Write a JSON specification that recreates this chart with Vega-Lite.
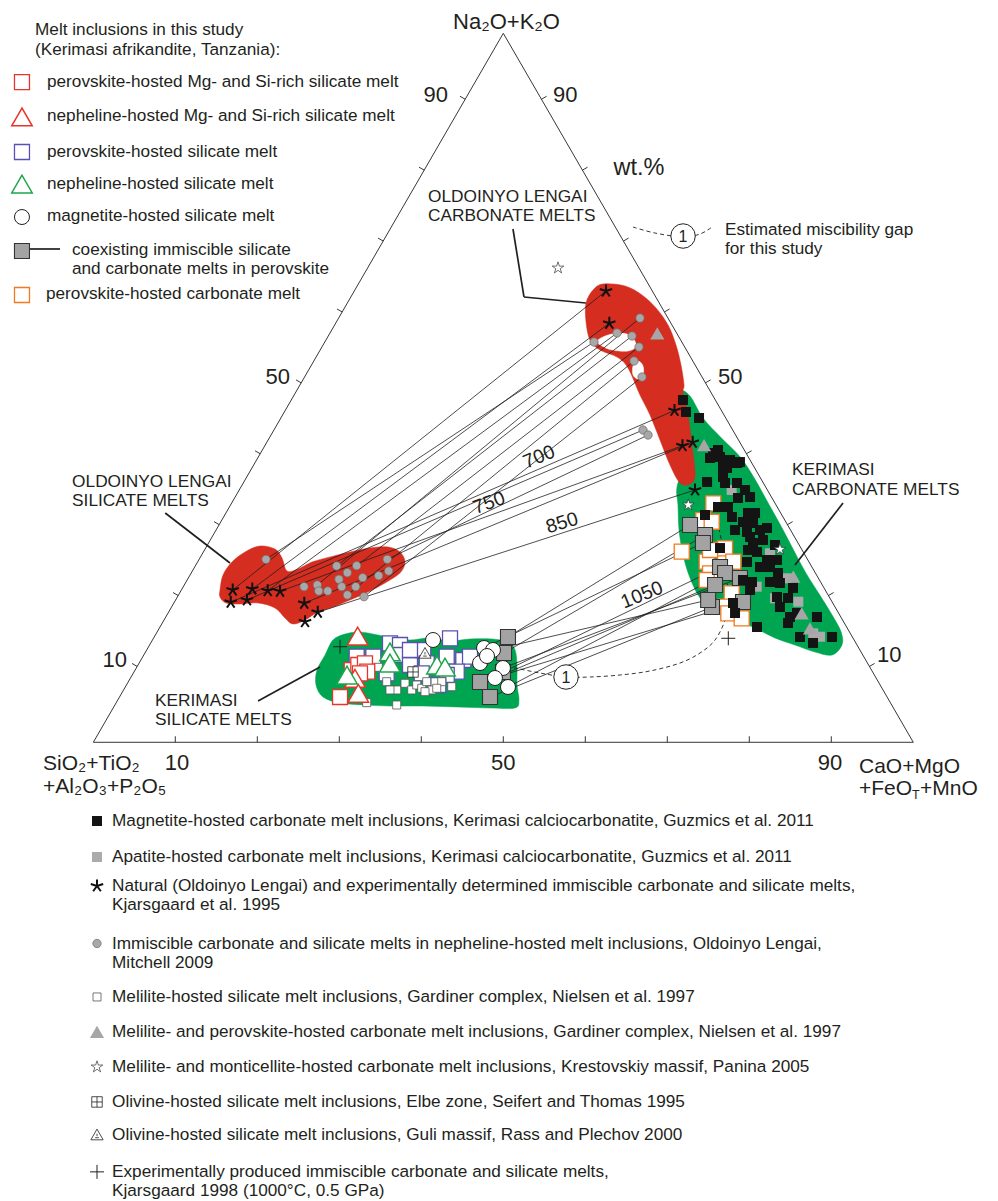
{
"$schema":"https://vega.github.io/schema/vega-lite/v6.json",
"width":998,"height":1201,"padding":0,"autosize":{"type":"none"},"background":"white",
"config":{"view":{"stroke":null},"text":{"font":"Liberation Sans","color":"#231f20"}},
"encoding":{
"x":{"field":"x","type":"quantitative","scale":{"domain":[-11.38,110.33],"nice":false,"zero":false},"axis":null},
"y":{"field":"y","type":"quantitative","scale":{"domain":[-64.70,104.70],"nice":false,"zero":false},"axis":null}},
"datasets":{
"poly":[
{"p":"gc","i":0,"x":71.55,"y":49.41},{"p":"gc","i":1,"x":72.77,"y":48.84},{"p":"gc","i":2,"x":74.35,"y":45.74},{"p":"gc","i":3,"x":76.6,"y":42.92},{"p":"gc","i":4,"x":78.9,"y":40.24},{"p":"gc","i":5,"x":80.6,"y":37.28},{"p":"gc","i":6,"x":82.1,"y":34.17},{"p":"gc","i":7,"x":83.8,"y":30.64},{"p":"gc","i":8,"x":85.4,"y":27.12},{"p":"gc","i":9,"x":86.9,"y":23.88},{"p":"gc","i":10,"x":88.6,"y":20.77},{"p":"gc","i":11,"x":90.1,"y":17.95},{"p":"gc","i":12,"x":91.2,"y":15.55},{"p":"gc","i":13,"x":91.3,"y":13.72},{"p":"gc","i":14,"x":90.09,"y":12.31},{"p":"gc","i":15,"x":88.01,"y":12.73},{"p":"gc","i":16,"x":85.57,"y":13.72},{"p":"gc","i":17,"x":83.13,"y":14.71},{"p":"gc","i":18,"x":80.70,"y":16.12},{"p":"gc","i":19,"x":78.26,"y":17.25},{"p":"gc","i":20,"x":75.82,"y":18.38},{"p":"gc","i":21,"x":73.99,"y":20.35},{"p":"gc","i":22,"x":72.77,"y":23.17},{"p":"gc","i":23,"x":71.92,"y":26.42},{"p":"gc","i":24,"x":71.43,"y":29.94},{"p":"gc","i":25,"x":71.30,"y":33.47},{"p":"gc","i":26,"x":71.18,"y":36.01},{"p":"gc","i":27,"x":72.16,"y":39.82},{"p":"gc","i":28,"x":72.04,"y":45.46},
{"p":"gs","i":0,"x":29.23,"y":14.43},{"p":"gs","i":1,"x":30.70,"y":15.27},{"p":"gs","i":2,"x":32.52,"y":15.56},{"p":"gs","i":3,"x":34.72,"y":15.13},{"p":"gs","i":4,"x":36.43,"y":14.71},{"p":"gs","i":5,"x":38.62,"y":14.43},{"p":"gs","i":6,"x":41.06,"y":14.71},{"p":"gs","i":7,"x":43.50,"y":14.29},{"p":"gs","i":8,"x":45.94,"y":14.57},{"p":"gs","i":9,"x":48.62,"y":14.57},{"p":"gs","i":10,"x":50.57,"y":14.14},{"p":"gs","i":11,"x":51.43,"y":13.02},{"p":"gs","i":12,"x":51.67,"y":10.90},{"p":"gs","i":13,"x":51.67,"y":8.08},{"p":"gs","i":14,"x":51.91,"y":5.97},{"p":"gs","i":15,"x":51.43,"y":4.84},{"p":"gs","i":16,"x":48.38,"y":4.84},{"p":"gs","i":17,"x":44.38,"y":4.98},{"p":"gs","i":18,"x":40.23,"y":5.12},{"p":"gs","i":19,"x":36.21,"y":5.12},{"p":"gs","i":20,"x":33.16,"y":5.26},{"p":"gs","i":21,"x":30.09,"y":5.54},{"p":"gs","i":22,"x":28.01,"y":6.39},{"p":"gs","i":23,"x":27.16,"y":8.08},{"p":"gs","i":24,"x":27.28,"y":10.19},{"p":"gs","i":25,"x":28.26,"y":12.31},
{"p":"rc","i":0,"x":62.16,"y":64.65},{"p":"rc","i":1,"x":64.84,"y":64.37},{"p":"rc","i":2,"x":66.91,"y":63.10},{"p":"rc","i":3,"x":68.62,"y":61.26},{"p":"rc","i":4,"x":70.09,"y":58.86},{"p":"rc","i":5,"x":71.06,"y":56.04},{"p":"rc","i":6,"x":71.67,"y":53.22},{"p":"rc","i":7,"x":72.04,"y":50.40},{"p":"rc","i":8,"x":71.92,"y":49.27},{"p":"rc","i":9,"x":72.53,"y":46.16},{"p":"rc","i":10,"x":73.01,"y":41.93},{"p":"rc","i":11,"x":73.38,"y":37.70},{"p":"rc","i":12,"x":72.77,"y":36.43},{"p":"rc","i":13,"x":71.55,"y":36.57},{"p":"rc","i":14,"x":70.33,"y":39.11},{"p":"rc","i":15,"x":69.11,"y":42.64},{"p":"rc","i":16,"x":67.89,"y":46.16},{"p":"rc","i":17,"x":66.67,"y":48.98},{"p":"rc","i":18,"x":65.21,"y":52.79},{"p":"rc","i":19,"x":63.87,"y":54.34},{"p":"rc","i":20,"x":61.79,"y":55.33},{"p":"rc","i":21,"x":60.57,"y":56.74},{"p":"rc","i":22,"x":60.09,"y":59.28},{"p":"rc","i":23,"x":60.09,"y":61.96},{"p":"rc","i":24,"x":60.94,"y":63.79},
{"p":"rs","i":0,"x":15.45,"y":21.48},{"p":"rs","i":1,"x":15.82,"y":23.60},{"p":"rs","i":2,"x":16.91,"y":25.43},{"p":"rs","i":3,"x":18.50,"y":26.84},{"p":"rs","i":4,"x":20.33,"y":27.69},{"p":"rs","i":5,"x":22.16,"y":27.26},{"p":"rs","i":6,"x":23.01,"y":25.99},{"p":"rs","i":7,"x":23.62,"y":24.16},{"p":"rs","i":8,"x":24.96,"y":24.44},{"p":"rs","i":9,"x":26.67,"y":25.43},{"p":"rs","i":10,"x":28.87,"y":26.14},{"p":"rs","i":11,"x":31.30,"y":26.84},{"p":"rs","i":12,"x":33.74,"y":27.41},{"p":"rs","i":13,"x":35.94,"y":27.55},{"p":"rs","i":14,"x":37.40,"y":26.84},{"p":"rs","i":15,"x":38.01,"y":25.43},{"p":"rs","i":16,"x":37.40,"y":23.88},{"p":"rs","i":17,"x":35.57,"y":22.47},{"p":"rs","i":18,"x":33.50,"y":21.20},{"p":"rs","i":19,"x":31.30,"y":20.07},{"p":"rs","i":20,"x":29.23,"y":19.08},{"p":"rs","i":21,"x":27.40,"y":18.38},{"p":"rs","i":22,"x":25.82,"y":17.25},{"p":"rs","i":23,"x":24.35,"y":16.68},{"p":"rs","i":24,"x":23.38,"y":17.53},{"p":"rs","i":25,"x":22.16,"y":18.94},{"p":"rs","i":26,"x":20.09,"y":19.65},{"p":"rs","i":27,"x":17.89,"y":19.51},{"p":"rs","i":28,"x":16.18,"y":19.65},{"p":"rs","i":29,"x":15.45,"y":20.49},
{"p":"w1","i":0,"x":61.43,"y":56.60},{"p":"w1","i":1,"x":62.77,"y":57.45},{"p":"w1","i":2,"x":64.48,"y":57.73},{"p":"w1","i":3,"x":65.70,"y":57.16},{"p":"w1","i":4,"x":66.18,"y":55.90},{"p":"w1","i":5,"x":65.21,"y":55.19},{"p":"w1","i":6,"x":63.26,"y":55.33},{"p":"w1","i":7,"x":62.04,"y":55.90},
{"p":"w2","i":0,"x":66.43,"y":53.78},{"p":"w2","i":1,"x":67.04,"y":53.08},{"p":"w2","i":2,"x":67.04,"y":51.81},{"p":"w2","i":3,"x":66.43,"y":51.24},{"p":"w2","i":4,"x":65.82,"y":51.81},{"p":"w2","i":5,"x":65.82,"y":53.08}
],
"seg":[
{"c":"tri","x":0,"y":0,"x2":100,"y2":0},{"c":"tri","x":100,"y":0,"x2":50,"y2":100},{"c":"tri","x":50,"y":100,"x2":0,"y2":0},
{"c":"tick","x":10,"y":0,"x2":10,"y2":0.85},{"c":"tick","x":20,"y":0,"x2":20,"y2":0.85},{"c":"tick","x":30,"y":0,"x2":30,"y2":0.85},{"c":"tick","x":40,"y":0,"x2":40,"y2":0.85},{"c":"tick","x":50,"y":0,"x2":50,"y2":0.85},{"c":"tick","x":60,"y":0,"x2":60,"y2":0.85},{"c":"tick","x":70,"y":0,"x2":70,"y2":0.85},{"c":"tick","x":80,"y":0,"x2":80,"y2":0.85},{"c":"tick","x":90,"y":0,"x2":90,"y2":0.85},
{"c":"tick","x":5.35,"y":10.7,"x2":4.72,"y2":11.12},{"c":"tick","x":10.35,"y":20.7,"x2":9.72,"y2":21.12},{"c":"tick","x":15.35,"y":30.7,"x2":14.72,"y2":31.12},{"c":"tick","x":20.35,"y":40.7,"x2":19.72,"y2":41.12},{"c":"tick","x":25.35,"y":50.7,"x2":24.72,"y2":51.12},{"c":"tick","x":30.35,"y":60.7,"x2":29.72,"y2":61.12},{"c":"tick","x":35.35,"y":70.7,"x2":34.72,"y2":71.12},{"c":"tick","x":40.35,"y":80.7,"x2":39.72,"y2":81.12},{"c":"tick","x":45.35,"y":90.7,"x2":44.72,"y2":91.12},
{"c":"tick","x":94.65,"y":10.7,"x2":95.28,"y2":11.12},{"c":"tick","x":89.65,"y":20.7,"x2":90.28,"y2":21.12},{"c":"tick","x":84.65,"y":30.7,"x2":85.28,"y2":31.12},{"c":"tick","x":79.65,"y":40.7,"x2":80.28,"y2":41.12},{"c":"tick","x":74.65,"y":50.7,"x2":75.28,"y2":51.12},{"c":"tick","x":69.65,"y":60.7,"x2":70.28,"y2":61.12},{"c":"tick","x":64.65,"y":70.7,"x2":65.28,"y2":71.12},{"c":"tick","x":59.65,"y":80.7,"x2":60.28,"y2":81.12},{"c":"tick","x":54.65,"y":90.7,"x2":55.28,"y2":91.12},
{"c":"tie","x":17.00,"y":21.48,"x2":62.52,"y2":63.65},{"c":"tie","x":19.39,"y":21.62,"x2":62.93,"y2":59.10},{"c":"tie","x":21.06,"y":25.81,"x2":61.06,"y2":56.46},{"c":"tie","x":21.27,"y":21.38,"x2":63.87,"y2":57.73},{"c":"tie","x":27.32,"y":22.19,"x2":66.67,"y2":59.84},{"c":"tie","x":29.68,"y":24.87,"x2":65.70,"y2":57.31},{"c":"tie","x":32.12,"y":24.91,"x2":66.55,"y2":55.75},{"c":"tie","x":30.98,"y":20.78,"x2":65.94,"y2":53.78},{"c":"tie","x":33.01,"y":20.54,"x2":66.92,"y2":51.52},{"c":"tie","x":16.76,"y":19.75,"x2":70.88,"y2":46.80},{"c":"tie","x":18.74,"y":20.07,"x2":67.04,"y2":44.05},{"c":"tie","x":22.77,"y":21.30,"x2":71.85,"y2":41.83},{"c":"tie","x":27.37,"y":18.34,"x2":73.38,"y2":35.59},{"c":"tie","x":25.73,"y":19.61,"x2":73.10,"y2":42.31},{"c":"tie","x":35.85,"y":25.81,"x2":67.65,"y2":43.34},
{"c":"tie","x":50.57,"y":14.85,"x2":72.77,"y2":30.65},{"c":"tie","x":50.09,"y":12.59,"x2":74.60,"y2":29.24},{"c":"tie","x":47.65,"y":13.30,"x2":74.35,"y2":28.11},{"c":"tie","x":49.96,"y":9.92,"x2":76.43,"y2":24.72},{"c":"tie","x":50.57,"y":7.80,"x2":77.04,"y2":23.88},{"c":"tie","x":48.98,"y":9.07,"x2":75.82,"y2":22.19},{"c":"tie","x":49.96,"y":10.48,"x2":78.86,"y2":23.17},{"c":"tie","x":48.38,"y":6.39,"x2":75.45,"y2":19.08},{"c":"tie","x":47.16,"y":8.50,"x2":79.23,"y2":19.79},{"c":"tie","x":48.74,"y":13.02,"x2":74.98,"y2":20.07},
{"c":"ptr","x":8.77,"y":32.34,"x2":16.67,"y2":25.29},{"c":"ptr","x":51.18,"y":72.40,"x2":52.52,"y2":62.81},{"c":"ptr","x":52.52,"y":62.81,"x2":60.07,"y2":61.96},{"c":"ptr","x":91.43,"y":33.75,"x2":85.57,"y2":25.01},{"c":"ptr","x":20.09,"y":5.83,"x2":27.65,"y2":10.62},{"c":"ptr","x":-7.72,"y":69.58,"x2":-4.06,"y2":69.58}
],
"dash":[
{"id":"b","i":0,"x":49.60,"y":10.90},{"id":"b","i":1,"x":51.43,"y":10.48},{"id":"b","i":2,"x":54.48,"y":9.77},{"id":"b","i":3,"x":57.65,"y":9.21},{"id":"b","i":4,"x":60.57,"y":9.21},{"id":"b","i":5,"x":64.23,"y":9.49},{"id":"b","i":6,"x":67.89,"y":10.06},{"id":"b","i":7,"x":71.55,"y":11.18},{"id":"b","i":8,"x":73.99,"y":12.60},{"id":"b","i":9,"x":75.82,"y":14.43},{"id":"b","i":10,"x":77.04,"y":17.25},{"id":"b","i":11,"x":77.40,"y":20.07},{"id":"b","i":12,"x":77.04,"y":25.71},{"id":"b","i":13,"x":76.06,"y":31.35},
{"id":"t","i":0,"x":65.82,"y":72.68},{"id":"t","i":1,"x":68.51,"y":71.83},{"id":"t","i":2,"x":71.92,"y":71.27},{"id":"t","i":3,"x":73.99,"y":71.69},{"id":"t","i":4,"x":75.46,"y":72.68}
],
"pts":[
{"c":"blsq","x":36.18,"y":13.96},{"c":"blsq","x":37.40,"y":13.72},{"c":"blsq","x":37.00,"y":12.31},{"c":"blsq","x":38.62,"y":10.90},{"c":"blsq","x":40.24,"y":13.02},{"c":"blsq","x":40.66,"y":11.14},{"c":"blsq","x":43.10,"y":12.07},{"c":"blsq","x":43.50,"y":14.67},{"c":"blsq","x":45.12,"y":11.61},{"c":"blsq","x":45.94,"y":12.07},{"c":"blsq","x":44.32,"y":9.96},{"c":"blsq","x":43.10,"y":9.49},{"c":"blsq","x":34.15,"y":12.07},{"c":"blsq","x":32.12,"y":12.07},{"c":"blsq","x":40.05,"y":9.73},{"c":"blsq","x":42.07,"y":8.08},{"c":"blsq","x":38.62,"y":13.02},{"c":"blsq","x":35.78,"y":9.73},{"c":"blsq","x":-8.70,"y":83.26},
{"c":"nsil","x":34.76,"y":10.58},{"c":"nsil","x":35.78,"y":8.55},{"c":"nsil","x":37.00,"y":7.38},{"c":"nsil","x":38.01,"y":8.32},{"c":"nsil","x":38.83,"y":7.38},{"c":"nsil","x":39.44,"y":8.08},{"c":"nsil","x":40.05,"y":7.62},{"c":"nsil","x":40.66,"y":8.55},{"c":"nsil","x":41.27,"y":7.38},{"c":"nsil","x":42.49,"y":8.55},{"c":"nsil","x":41.88,"y":7.62},{"c":"nsil","x":43.71,"y":7.84},{"c":"nsil","x":33.34,"y":5.59},{"c":"nsil","x":37.00,"y":5.26},{"c":"nsil","x":36.18,"y":7.38},{"c":"nsil","x":40.45,"y":7.14},{"c":"nsil","x":0.45,"y":-35.92},
{"c":"olsq","x":31.51,"y":10.20},{"c":"olsq","x":32.32,"y":10.90},{"c":"olsq","x":33.13,"y":11.14},{"c":"olsq","x":33.41,"y":9.96},{"c":"olsq","x":32.52,"y":9.73},{"c":"olsq","x":30.09,"y":6.39},{"c":"olsq","x":-8.70,"y":93.13},
{"c":"oltri","x":32.24,"y":14.99},{"c":"oltri","x":31.91,"y":9.03},{"c":"oltri","x":32.32,"y":6.91},{"c":"oltri","x":-8.70,"y":88.20},
{"c":"grtri","x":36.18,"y":12.74},{"c":"grtri","x":36.18,"y":11.18},{"c":"grtri","x":41.91,"y":10.90},{"c":"grtri","x":42.89,"y":10.62},{"c":"grtri","x":30.94,"y":9.49},{"c":"grtri","x":-8.70,"y":78.74},
{"c":"orsq","x":75.61,"y":33.71},{"c":"orsq","x":74.39,"y":31.35},{"c":"orsq","x":75.41,"y":31.11},{"c":"orsq","x":71.76,"y":26.88},{"c":"orsq","x":74.80,"y":25.47},{"c":"orsq","x":75.21,"y":23.84},{"c":"orsq","x":77.04,"y":25.47},{"c":"orsq","x":77.04,"y":27.36},{"c":"orsq","x":78.05,"y":25.47},{"c":"orsq","x":77.85,"y":21.02},{"c":"orsq","x":77.04,"y":19.13},{"c":"orsq","x":77.44,"y":18.19},{"c":"orsq","x":79.07,"y":17.49},{"c":"orsq","x":74.80,"y":22.89},{"c":"orsq","x":75.21,"y":27.12},{"c":"orsq","x":-8.70,"y":63.09},
{"c":"cox","x":50.57,"y":14.85},{"c":"cox","x":50.09,"y":12.59},{"c":"cox","x":47.16,"y":8.50},{"c":"cox","x":48.38,"y":6.39},{"c":"cox","x":49.96,"y":9.92},{"c":"cox","x":72.77,"y":30.65},{"c":"cox","x":74.60,"y":29.24},{"c":"cox","x":74.35,"y":28.11},{"c":"cox","x":76.43,"y":24.72},{"c":"cox","x":77.04,"y":23.88},{"c":"cox","x":75.82,"y":22.19},{"c":"cox","x":78.86,"y":23.17},{"c":"cox","x":75.45,"y":19.08},{"c":"cox","x":79.23,"y":19.79},{"c":"cox","x":74.98,"y":20.07},{"c":"cox","x":-8.70,"y":69.30},
{"c":"mag","x":41.43,"y":14.43},{"c":"mag","x":47.65,"y":13.30},{"c":"mag","x":48.74,"y":13.02},{"c":"mag","x":47.16,"y":11.18},{"c":"mag","x":49.96,"y":10.48},{"c":"mag","x":48.98,"y":9.07},{"c":"mag","x":50.57,"y":7.80},{"c":"mag","x":48.01,"y":12.17},{"c":"mag","x":-8.70,"y":74.09},
{"c":"apa","x":77.85,"y":35.59},{"c":"apa","x":84.56,"y":23.13},{"c":"apa","x":83.13,"y":20.31},{"c":"apa","x":85.98,"y":19.83},{"c":"apa","x":88.62,"y":14.89},{"c":"apa","x":80.90,"y":21.95},{"c":"apa","x":82.52,"y":26.66},{"c":"apa","x":87.80,"y":15.37},{"c":"apa","x":0.45,"y":-16.18},
{"c":"guz","x":71.91,"y":48.28},{"c":"guz","x":72.28,"y":46.59},{"c":"guz","x":73.87,"y":45.74},{"c":"guz","x":75.57,"y":40.80},{"c":"guz","x":76.43,"y":40.24},{"c":"guz","x":76.79,"y":38.83},{"c":"guz","x":77.65,"y":39.82},{"c":"guz","x":78.50,"y":39.39},{"c":"guz","x":74.85,"y":36.71},{"c":"guz","x":77.04,"y":36.57},{"c":"guz","x":78.50,"y":36.57},{"c":"guz","x":75.21,"y":40.10},{"c":"guz","x":76.18,"y":41.23},{"c":"guz","x":78.86,"y":39.53},{"c":"guz","x":77.28,"y":38.69},{"c":"guz","x":76.79,"y":37.42},{"c":"guz","x":79.48,"y":35.59},{"c":"guz","x":80.09,"y":34.60},{"c":"guz","x":78.62,"y":34.46},{"c":"guz","x":76.18,"y":33.19},{"c":"guz","x":77.40,"y":33.19},{"c":"guz","x":74.60,"y":32.06},{"c":"guz","x":77.89,"y":31.78},{"c":"guz","x":79.84,"y":32.34},{"c":"guz","x":80.70,"y":32.34},{"c":"guz","x":79.23,"y":31.07},{"c":"guz","x":80.45,"y":30.93},{"c":"guz","x":78.26,"y":29.94},{"c":"guz","x":79.72,"y":29.66},{"c":"guz","x":81.30,"y":29.94},{"c":"guz","x":82.16,"y":30.23},{"c":"guz","x":80.09,"y":28.96},{"c":"guz","x":80.45,"y":28.11},{"c":"guz","x":81.67,"y":28.53},{"c":"guz","x":76.43,"y":27.40},{"c":"guz","x":79.84,"y":27.12},{"c":"guz","x":80.94,"y":26.84},{"c":"guz","x":82.16,"y":25.71},{"c":"guz","x":83.38,"y":25.71},{"c":"guz","x":79.72,"y":25.43},{"c":"guz","x":81.30,"y":24.72},{"c":"guz","x":82.52,"y":24.72},{"c":"guz","x":83.50,"y":23.88},{"c":"guz","x":79.23,"y":22.89},{"c":"guz","x":80.33,"y":22.61},{"c":"guz","x":82.52,"y":22.61},{"c":"guz","x":83.74,"y":22.47},{"c":"guz","x":80.09,"y":21.48},{"c":"guz","x":85.33,"y":21.76},{"c":"guz","x":83.38,"y":20.49},{"c":"guz","x":84.72,"y":20.35},{"c":"guz","x":83.74,"y":19.08},{"c":"guz","x":78.01,"y":19.65},{"c":"guz","x":78.26,"y":18.24},{"c":"guz","x":80.94,"y":16.26},{"c":"guz","x":84.96,"y":17.67},{"c":"guz","x":88.26,"y":17.67},{"c":"guz","x":84.72,"y":16.83},{"c":"guz","x":86.18,"y":14.85},{"c":"guz","x":87.77,"y":14.01},{"c":"guz","x":90.09,"y":14.85},{"c":"guz","x":85.82,"y":18.24},{"c":"guz","x":83.13,"y":27.83},{"c":"guz","x":0.45,"y":-11.10},
{"c":"ncarb","x":68.78,"y":57.69},{"c":"ncarb","x":74.48,"y":41.93},{"c":"ncarb","x":85.37,"y":23.36},{"c":"ncarb","x":86.39,"y":18.19},{"c":"ncarb","x":87.40,"y":16.08},{"c":"ncarb","x":0.45,"y":-40.86},
{"c":"elbe","x":38.99,"y":9.92},{"c":"elbe","x":0.45,"y":-50.73},
{"c":"guli","x":40.45,"y":12.55},{"c":"guli","x":0.45,"y":-55.38},
{"c":"mit","x":21.06,"y":25.81},{"c":"mit","x":25.70,"y":21.95},{"c":"mit","x":27.32,"y":22.19},{"c":"mit","x":27.49,"y":21.34},{"c":"mit","x":28.59,"y":21.34},{"c":"mit","x":29.68,"y":24.87},{"c":"mit","x":30.98,"y":23.92},{"c":"mit","x":32.12,"y":24.91},{"c":"mit","x":29.96,"y":22.99},{"c":"mit","x":30.29,"y":21.95},{"c":"mit","x":30.98,"y":20.78},{"c":"mit","x":32.00,"y":21.95},{"c":"mit","x":32.85,"y":23.22},{"c":"mit","x":33.01,"y":20.54},{"c":"mit","x":34.80,"y":23.50},{"c":"mit","x":35.85,"y":25.81},{"c":"mit","x":36.02,"y":24.16},{"c":"mit","x":61.06,"y":56.46},{"c":"mit","x":63.87,"y":57.73},{"c":"mit","x":65.70,"y":57.31},{"c":"mit","x":66.55,"y":55.75},{"c":"mit","x":66.67,"y":59.84},{"c":"mit","x":65.94,"y":53.78},{"c":"mit","x":66.92,"y":51.52},{"c":"mit","x":67.04,"y":44.05},{"c":"mit","x":67.65,"y":43.34},{"c":"mit","x":0.45,"y":-28.38},
{"c":"kja","x":17.00,"y":21.48},{"c":"kja","x":16.76,"y":19.75},{"c":"kja","x":19.39,"y":21.62},{"c":"kja","x":18.74,"y":20.07},{"c":"kja","x":21.27,"y":21.38},{"c":"kja","x":22.77,"y":21.30},{"c":"kja","x":25.73,"y":19.61},{"c":"kja","x":27.37,"y":18.34},{"c":"kja","x":25.82,"y":17.01},{"c":"kja","x":62.52,"y":63.65},{"c":"kja","x":62.93,"y":59.10},{"c":"kja","x":70.88,"y":46.80},{"c":"kja","x":71.85,"y":41.83},{"c":"kja","x":73.10,"y":42.31},{"c":"kja","x":73.38,"y":35.59},{"c":"kja","x":0.45,"y":-20.27},
{"c":"pan","x":72.56,"y":33.47},{"c":"pan","x":83.74,"y":27.22},{"c":"pan","x":56.67,"y":66.90},{"c":"pan","x":0.45,"y":-45.79},
{"c":"exp","x":30.09,"y":13.48},{"c":"exp","x":77.44,"y":14.67},{"c":"exp","x":0.45,"y":-60.59}
]},
"layer":[
{"data":{"name":"poly"},"transform":[{"filter":"datum.p==='gc'||datum.p==='gs'"}],"mark":{"type":"line","interpolate":"cardinal-closed","fill":"#00a551","stroke":"#00a551","strokeWidth":0.5},"encoding":{"detail":{"field":"p"},"order":{"field":"i","type":"quantitative"}}},
{"data":{"name":"poly"},"transform":[{"filter":"datum.p==='rc'||datum.p==='rs'"}],"mark":{"type":"line","interpolate":"cardinal-closed","fill":"#d52d1f","stroke":"#d52d1f","strokeWidth":0.5},"encoding":{"detail":{"field":"p"},"order":{"field":"i","type":"quantitative"}}},
{"data":{"name":"poly"},"transform":[{"filter":"datum.p==='w1'||datum.p==='w2'"}],"mark":{"type":"line","interpolate":"cardinal-closed","fill":"white","stroke":"white","strokeWidth":0.5},"encoding":{"detail":{"field":"p"},"order":{"field":"i","type":"quantitative"}}},
{"data":{"name":"seg"},"transform":[{"filter":"datum.c==='tri'||datum.c==='tick'"}],"mark":{"type":"rule","stroke":"#231f20","strokeWidth":0.9},"encoding":{"x2":{"field":"x2"},"y2":{"field":"y2"}}},
{"data":{"name":"seg"},"transform":[{"filter":"datum.c==='tie'"}],"mark":{"type":"rule","stroke":"#231f20","strokeWidth":0.8},"encoding":{"x2":{"field":"x2"},"y2":{"field":"y2"}}},
{"data":{"name":"dash"},"mark":{"type":"line","interpolate":"cardinal","stroke":"#231f20","strokeWidth":0.9,"strokeDash":[4,3]},"encoding":{"detail":{"field":"id"},"order":{"field":"i","type":"quantitative"}}},
{"data":{"name":"seg"},"transform":[{"filter":"datum.c==='ptr'"}],"mark":{"type":"rule","stroke":"#231f20","strokeWidth":1.7},"encoding":{"x2":{"field":"x2"},"y2":{"field":"y2"}}},
{"data":{"name":"pts"},"transform":[{"filter":"datum.c==='blsq'"}],"mark":{"type":"point","shape":"square","filled":true,"fill":"white","stroke":"#5a52b0","strokeWidth":1.3,"size":225,"opacity":1}},
{"data":{"name":"pts"},"transform":[{"filter":"datum.c==='nsil'"}],"mark":{"type":"point","shape":"square","filled":true,"fill":"white","stroke":"#555555","strokeWidth":0.8,"size":64,"opacity":1}},
{"data":{"name":"pts"},"transform":[{"filter":"datum.c==='olsq'"}],"mark":{"type":"point","shape":"square","filled":true,"fill":"white","stroke":"#e8352b","strokeWidth":1.3,"size":225,"opacity":1}},
{"data":{"name":"pts"},"transform":[{"filter":"datum.c==='oltri'"}],"mark":{"type":"point","shape":"triangle-up","filled":true,"fill":"white","stroke":"#e8352b","strokeWidth":1.5,"size":420,"opacity":1}},
{"data":{"name":"pts"},"transform":[{"filter":"datum.c==='grtri'"}],"mark":{"type":"point","shape":"triangle-up","filled":true,"fill":"white","stroke":"#1ea64b","strokeWidth":1.5,"size":420,"opacity":1}},
{"data":{"name":"pts"},"transform":[{"filter":"datum.c==='orsq'"}],"mark":{"type":"point","shape":"square","filled":true,"fill":"white","stroke":"#f07a22","strokeWidth":1.3,"size":225,"opacity":1}},
{"data":{"name":"pts"},"transform":[{"filter":"datum.c==='cox'"}],"mark":{"type":"point","shape":"square","filled":true,"fill":"#a3a3a3","stroke":"#333333","strokeWidth":1.1,"size":225,"opacity":1}},
{"data":{"name":"pts"},"transform":[{"filter":"datum.c==='mag'"}],"mark":{"type":"point","shape":"circle","filled":true,"fill":"white","stroke":"#231f20","strokeWidth":1,"size":225,"opacity":1}},
{"data":{"name":"pts"},"transform":[{"filter":"datum.c==='apa'"}],"mark":{"type":"point","shape":"square","filled":true,"fill":"#ababab","strokeWidth":0,"size":100,"opacity":1}},
{"data":{"name":"pts"},"transform":[{"filter":"datum.c==='guz'"}],"mark":{"type":"point","shape":"square","filled":true,"fill":"#141414","strokeWidth":0,"size":100,"opacity":1}},
{"data":{"name":"pts"},"transform":[{"filter":"datum.c==='ncarb'"}],"mark":{"type":"point","shape":"triangle-up","filled":true,"fill":"#a6a6a6","strokeWidth":0,"size":200,"opacity":1}},
{"data":{"name":"pts"},"transform":[{"filter":"datum.c==='elbe'"}],"mark":{"type":"point","shape":"M-1,-1L1,-1L1,1L-1,1ZM0,-1L0,1M-1,0L1,0","filled":true,"fill":"white","stroke":"#231f20","strokeWidth":0.8,"size":110,"opacity":1}},
{"data":{"name":"pts"},"transform":[{"filter":"datum.c==='guli'"}],"mark":{"type":"point","shape":"M0,-0.95L1,0.8L-1,0.8ZM-0.3,0.45L0.3,0.45M0,-0.2L0,0.2","filled":true,"fill":"white","stroke":"#231f20","strokeWidth":0.8,"size":150,"opacity":1}},
{"data":{"name":"pts"},"transform":[{"filter":"datum.c==='mit'"}],"mark":{"type":"point","shape":"circle","filled":true,"fill":"#a8a8a8","stroke":"#6b6b6b","strokeWidth":0.7,"size":70,"opacity":1}},
{"data":{"name":"pts"},"transform":[{"filter":"datum.c==='kja'"}],"mark":{"type":"point","shape":"M0,0L0,-1M0,0L0.95,-0.31M0,0L0.59,0.81M0,0L-0.59,0.81M0,0L-0.95,-0.31","filled":false,"stroke":"#111111","strokeWidth":2,"size":170,"opacity":1}},
{"data":{"name":"pts"},"transform":[{"filter":"datum.c==='pan'"}],"mark":{"type":"point","shape":"M0,-1L0.223,-0.307L0.951,-0.309L0.361,0.117L0.588,0.809L0,0.38L-0.588,0.809L-0.361,0.117L-0.951,-0.309L-0.223,-0.307Z","filled":true,"fill":"white","stroke":"#333333","strokeWidth":0.7,"size":150,"opacity":1}},
{"data":{"name":"pts"},"transform":[{"filter":"datum.c==='exp'"}],"mark":{"type":"point","shape":"M-1,0L1,0M0,-1L0,1","filled":false,"stroke":"#231f20","strokeWidth":1,"size":196,"opacity":1}},
{"data":{"values":[{"x":57.65,"y":9.21,"t":"1"},{"x":71.92,"y":71.41,"t":"1"}]},"mark":{"type":"point","shape":"circle","filled":true,"fill":"white","stroke":"#231f20","strokeWidth":1,"size":600,"opacity":1}},
{"data":{"values":[{"x":57.65,"y":9.21,"t":"1"},{"x":71.92,"y":71.41,"t":"1"}]},"mark":{"type":"text","align":"center","baseline":"middle","fontSize":16,"dy":1},"encoding":{"text":{"field":"t"}}},
{"data":{"values":[{"x":50.39,"y":100.61,"t":"Na₂O+K₂O"}]},"mark":{"type":"text","align":"center","baseline":"alphabetic","fontSize":22},"encoding":{"text":{"field":"t"}}},
{"data":{"values":[{"x":-6.13,"y":-3.91,"t":"SiO₂+TiO₂"},{"x":-6.13,"y":-7.15,"t":"+Al₂O₃+P₂O₅"},{"x":93.38,"y":-4.33,"t":"CaO+MgO"},{"x":93.38,"y":-7.43,"t":"+FeO"},{"x":100.82,"y":-7.43,"t":"+MnO"}]},"mark":{"type":"text","align":"left","baseline":"alphabetic","fontSize":21},"encoding":{"text":{"field":"t"}}},
{"data":{"values":[{"x":99.84,"y":-8.00,"t":"T"}]},"mark":{"type":"text","align":"left","baseline":"alphabetic","fontSize":12.5},"encoding":{"text":{"field":"t"}}},
{"data":{"values":[{"x":4.11,"y":11.61,"t":"10"},{"x":23.99,"y":51.52,"t":"50"},{"x":43.26,"y":91.30,"t":"90"}]},"mark":{"type":"text","align":"right","baseline":"middle","fontSize":22},"encoding":{"text":{"field":"t"}}},
{"data":{"values":[{"x":56.06,"y":91.30,"t":"90"},{"x":76.18,"y":51.52,"t":"50"},{"x":95.57,"y":12.31,"t":"10"}]},"mark":{"type":"text","align":"left","baseline":"middle","fontSize":22},"encoding":{"text":{"field":"t"}}},
{"data":{"values":[{"x":10.21,"y":-2.92,"t":"10"},{"x":50.0,"y":-2.92,"t":"50"},{"x":89.84,"y":-2.92,"t":"90"}]},"mark":{"type":"text","align":"center","baseline":"middle","fontSize":22},"encoding":{"text":{"field":"t"}}},
{"data":{"values":[{"x":66.55,"y":81.0,"t":"wt.%"}]},"mark":{"type":"text","align":"center","baseline":"middle","fontSize":23.5},"encoding":{"text":{"field":"t"}}},
{"data":{"values":[{"x":40.82,"y":76.91,"t":"OLDOINYO LENGAI"},{"x":40.82,"y":74.23,"t":"CARBONATE MELTS"},{"x":-2.59,"y":36.71,"t":"OLDOINYO LENGAI"},{"x":-2.59,"y":34.03,"t":"SILICATE MELTS"},{"x":85.21,"y":38.41,"t":"KERIMASI"},{"x":85.21,"y":35.59,"t":"CARBONATE MELTS"},{"x":7.52,"y":5.83,"t":"KERIMASI"},{"x":7.52,"y":3.15,"t":"SILICATE MELTS"}]},"mark":{"type":"text","align":"left","baseline":"middle","fontSize":17.3},"encoding":{"text":{"field":"t"}}},
{"data":{"values":[{"x":54.35,"y":40.24,"t":"700"}]},"mark":{"type":"text","align":"center","baseline":"middle","fontSize":19.5,"angle":338},"encoding":{"text":{"field":"t"}}},
{"data":{"values":[{"x":48.26,"y":33.75,"t":"750"}]},"mark":{"type":"text","align":"center","baseline":"middle","fontSize":19.5,"angle":340},"encoding":{"text":{"field":"t"}}},
{"data":{"values":[{"x":57.16,"y":30.93,"t":"850"}]},"mark":{"type":"text","align":"center","baseline":"middle","fontSize":19.5,"angle":343},"encoding":{"text":{"field":"t"}}},
{"data":{"values":[{"x":66.91,"y":20.78,"t":"1050"}]},"mark":{"type":"text","align":"center","baseline":"middle","fontSize":19.5,"angle":338},"encoding":{"text":{"field":"t"}}},
{"data":{"values":[
{"t":"Melt inclusions in this study","x":-7.11,"y":100.47},
{"t":"(Kerimasi afrikandite, Tanzania):","x":-7.11,"y":97.65},
{"t":"perovskite-hosted Mg- and Si-rich silicate melt","x":-5.65,"y":93.13},
{"t":"nepheline-hosted Mg- and Si-rich silicate melt","x":-5.65,"y":88.34},
{"t":"perovskite-hosted silicate melt","x":-5.65,"y":83.26},
{"t":"nepheline-hosted silicate melt","x":-5.65,"y":78.74},
{"t":"magnetite-hosted silicate melt","x":-5.65,"y":74.23},
{"t":"coexisting immiscible silicate","x":-2.60,"y":69.44},
{"t":"and carbonate melts in perovskite","x":-2.60,"y":66.76},
{"t":"perovskite-hosted carbonate melt","x":-5.77,"y":63.23},
{"t":"Estimated miscibility gap","x":77.04,"y":72.26},
{"t":"for this study","x":77.04,"y":69.58},
{"t":"Magnetite-hosted carbonate melt inclusions, Kerimasi calciocarbonatite, Guzmics et al. 2011","x":2.28,"y":-11.10},
{"t":"Apatite-hosted carbonate melt inclusions, Kerimasi calciocarbonatite, Guzmics et al. 2011","x":2.28,"y":-16.18},
{"t":"Natural (Oldoinyo Lengai) and experimentally determined immiscible carbonate and silicate melts,","x":2.28,"y":-20.27},
{"t":"Kjarsgaard et al. 1995","x":2.28,"y":-22.95},
{"t":"Immiscible carbonate and silicate melts in nepheline-hosted melt inclusions, Oldoinyo Lengai,","x":2.28,"y":-28.38},
{"t":"Mitchell  2009","x":2.28,"y":-31.13},
{"t":"Melilite-hosted silicate melt inclusions, Gardiner complex, Nielsen et al. 1997","x":2.28,"y":-35.92},
{"t":"Melilite- and perovskite-hosted carbonate melt inclusions, Gardiner complex, Nielsen et al. 1997","x":2.28,"y":-40.86},
{"t":"Melilite- and monticellite-hosted carbonate melt inclusions, Krestovskiy massif, Panina 2005","x":2.28,"y":-45.79},
{"t":"Olivine-hosted silicate melt inclusions, Elbe zone, Seifert and Thomas 1995","x":2.28,"y":-50.73},
{"t":"Olivine-hosted silicate melt inclusions, Guli massif, Rass and Plechov 2000","x":2.28,"y":-55.38},
{"t":"Experimentally produced immiscible carbonate and silicate melts,","x":2.28,"y":-60.59},
{"t":"Kjarsgaard 1998 (1000°C, 0.5 GPa)","x":2.28,"y":-63.27}
]},"mark":{"type":"text","align":"left","baseline":"middle","fontSize":17.2},"encoding":{"text":{"field":"t"}}}
]
}
